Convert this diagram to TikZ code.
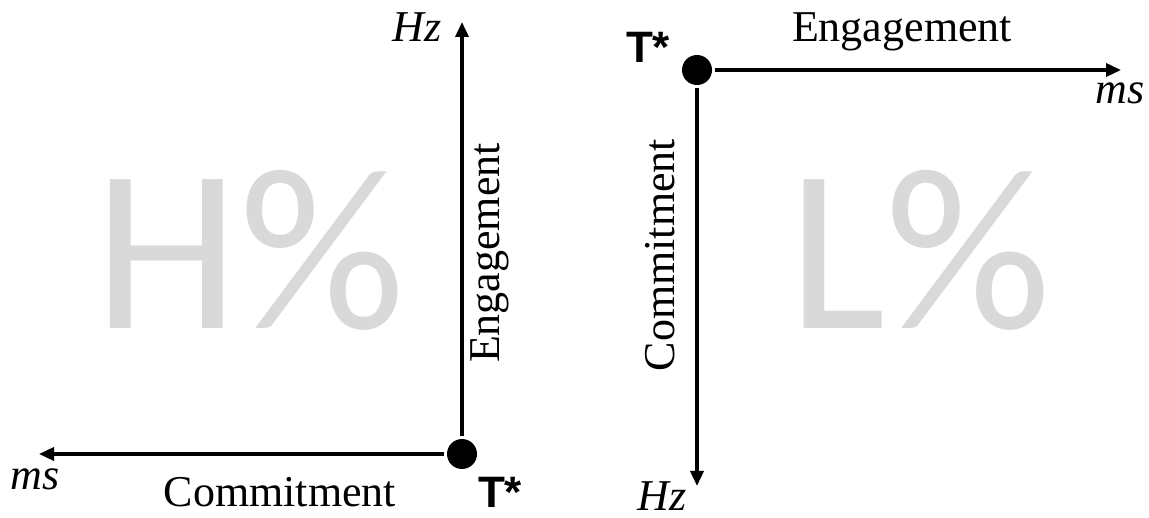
\documentclass[tikz,border=0pt]{standalone}
\usepackage{fontspec}
\setmainfont{Liberation Serif}
\newfontfamily\starfont{Liberation Sans}
\newfontfamily\pctfont{Carlito}
\usetikzlibrary{arrows.meta}
\definecolor{pctgray}{RGB}{217,217,217}
\begin{document}
\begin{tikzpicture}[x=1pt, y=-1pt, every node/.style={inner sep=0pt},
    dot/.style={circle, fill, minimum size=30pt, outer sep=3pt},
    axis/.style={line width=3.5pt, -{Triangle[length=15pt, width=13pt]}},
    lbl/.style={font=\fontsize{44}{44}\selectfont},
    unit/.style={font=\fontsize{44}{44}\selectfont\itshape},
    tstar/.style={font=\fontsize{44}{44}\selectfont\starfont\bfseries},
    pct/.style={font=\fontsize{232}{232}\selectfont\pctfont, text=pctgray}]
    \useasboundingbox (0,0) rectangle (1149,518);
    % left panel
    \node[pct] (hpct) at (250,250) {H\%};
    \node[dot] (tl) at (462,454) {};
    \coordinate (tlup) at (462,22);
    \coordinate (tlleft) at (39,454);
    \draw[axis] (tl) -- (tlup);
    \draw[axis] (tl) -- (tlleft);
    \node[unit] (hzl) at (417,27) {Hz};
    \node[unit] (msl) at (35,479) {ms};
    \node[lbl, rotate=90] (engl) at (490,253) {Engagement};
    \node[lbl] (coml) at (280,492) {Commitment};
    \node[tstar] (tsl) at (500,492) {T*};
    % right panel
    \node[pct] (lpct) at (920,250) {L\%};
    \node[dot] (tr) at (697,70) {};
    \coordinate (trright) at (1121,70);
    \coordinate (trdown) at (697,486);
    \draw[axis] (tr) -- (trright);
    \draw[axis] (tr) -- (trdown);
    \node[unit] (msr) at (1120,93) {ms};
    \node[unit] (hzr) at (662,496) {Hz};
    \node[lbl] (engr) at (902,32) {Engagement};
    \node[lbl, rotate=90] (comr) at (660,255) {Commitment};
    \node[tstar] (tsr) at (648,47) {T*};
\end{tikzpicture}
\end{document}
